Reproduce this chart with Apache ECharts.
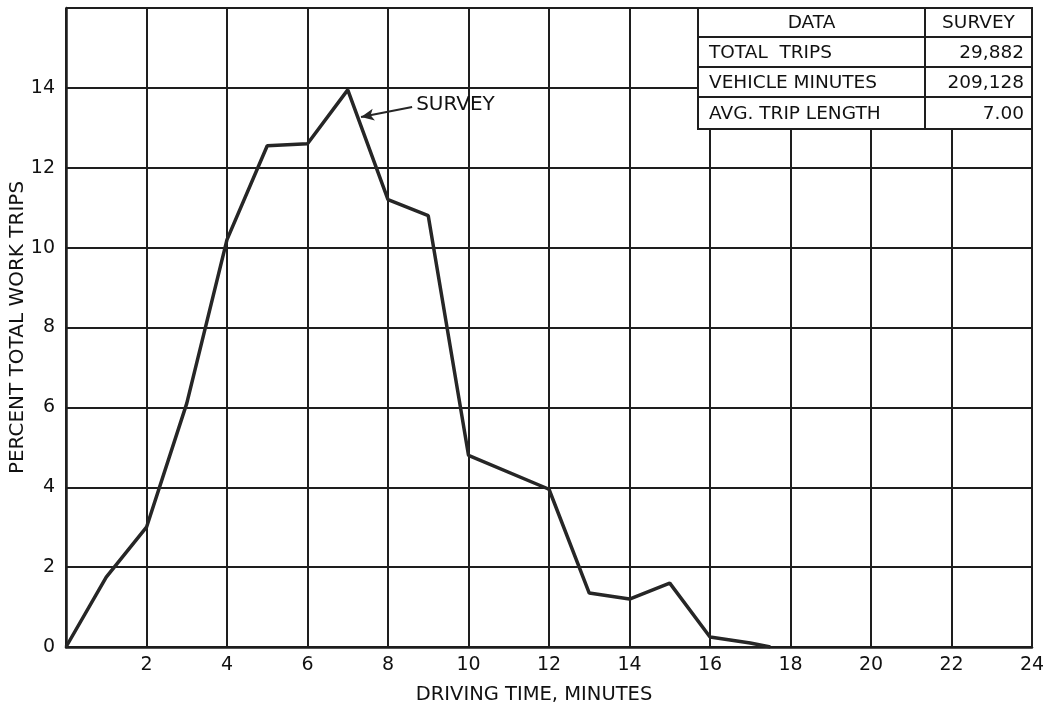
<!DOCTYPE html>
<html>
<head>
<meta charset="utf-8">
<script src="https://cdn.jsdelivr.net/npm/echarts@6/dist/echarts.min.js"></script>
<style>
html,body{margin:0;padding:0;background:#fff;}
#c{width:1055px;height:708px;}
</style>
</head>
<body>
<div id="c"></div>
<script>
// Data
var drivingTime = [0, 1, 2, 3, 4, 5, 6, 7, 8, 9, 10, 12, 13, 14, 15, 16, 17, 17.5];
var percentTrips = [0, 1.75, 3.0, 6.1, 10.2, 12.55, 12.6, 13.95, 11.2, 10.8, 4.8, 3.95, 1.35, 1.2, 1.6, 0.25, 0.1, 0];
var xTicks = [0, 2, 4, 6, 8, 10, 12, 14, 16, 18, 20, 22, 24];
var yTicks = [0, 2, 4, 6, 8, 10, 12, 14, 16];
var tableHeader = ['DATA', 'SURVEY'];
var tableLabels = ['TOTAL  TRIPS', 'VEHICLE MINUTES', 'AVG. TRIP LENGTH'];
var tableValues = ['29,882', '209,128', '7.00'];
var seriesName = 'SURVEY';

var FONT = 'DejaVu Sans';
var INK = '#1e1e1e';

var chart = echarts.init(document.getElementById('c'), null, {renderer: 'canvas'});

var pts = drivingTime.map(function (x, i) { return [x, percentTrips[i]]; });

// table geometry
var tL = 698, tR = 1032, tC = 925, rows = [8, 37, 67, 97, 129];
var g = [];
g.push({type: 'rect', shape: {x: tL, y: rows[0], width: tR - tL, height: rows[4] - rows[0]},
  style: {fill: '#fff', stroke: INK, lineWidth: 2}, z: 100});
for (var r = 1; r < 4; r++) {
  g.push({type: 'line', shape: {x1: tL, y1: rows[r], x2: tR, y2: rows[r]}, style: {stroke: INK, lineWidth: 2}, z: 101});
}
g.push({type: 'line', shape: {x1: tC, y1: rows[0], x2: tC, y2: rows[4]}, style: {stroke: INK, lineWidth: 2}, z: 101});
var tstyle = {fill: '#111', fontFamily: FONT, fontSize: 18.5};
g.push({type: 'text', x: (tL + tC) / 2, y: (rows[0] + rows[1]) / 2 + 1, z: 102,
  style: Object.assign({text: tableHeader[0], align: 'center', verticalAlign: 'middle'}, tstyle)});
g.push({type: 'text', x: (tC + tR) / 2, y: (rows[0] + rows[1]) / 2 + 1, z: 102,
  style: Object.assign({text: tableHeader[1], align: 'center', verticalAlign: 'middle'}, tstyle)});
for (var k = 0; k < 3; k++) {
  var cy = (rows[k + 1] + rows[k + 2]) / 2 + 1;
  g.push({type: 'text', x: tL + 11, y: cy, z: 102,
    style: Object.assign({text: tableLabels[k], align: 'left', verticalAlign: 'middle'}, tstyle)});
  g.push({type: 'text', x: tR - 8, y: cy, z: 102,
    style: Object.assign({text: tableValues[k], align: 'right', verticalAlign: 'middle'}, tstyle)});
}

var option = {
  backgroundColor: '#fff',
  animation: false,
  grid: {left: 66, right: 23, top: 8, bottom: 61, containLabel: false, outerBoundsMode: 'none'},
  xAxis: {
    type: 'value', min: xTicks[0], max: xTicks[xTicks.length - 1], interval: 2,
    name: 'DRIVING TIME, MINUTES', nameLocation: 'middle', nameGap: 38, nameMoveOverlap: false,
    nameTextStyle: {fontFamily: FONT, fontSize: 19.5, color: '#111', padding: [0, 30, 0, 0]},
    axisLine: {show: true, lineStyle: {color: INK, width: 2.5}},
    axisTick: {show: false},
    axisLabel: {fontFamily: FONT, fontSize: 19, color: '#111', margin: 9,
      formatter: function (v) { return v === 0 ? '' : String(v); }},
    splitLine: {show: true, lineStyle: {color: INK, width: 2}}
  },
  yAxis: {
    type: 'value', min: yTicks[0], max: yTicks[yTicks.length - 1], interval: 2,
    name: 'PERCENT TOTAL WORK TRIPS', nameLocation: 'middle', nameGap: 38, nameMoveOverlap: false,
    nameTextStyle: {fontFamily: FONT, fontSize: 20, color: '#111'},
    axisLine: {show: true, lineStyle: {color: INK, width: 2.5}},
    axisTick: {show: false},
    axisLabel: {fontFamily: FONT, fontSize: 19, color: '#111', margin: 11,
      formatter: function (v) { return v === 16 ? '' : String(v); }},
    splitLine: {show: true, lineStyle: {color: INK, width: 2}}
  },
  series: [{
    name: seriesName,
    type: 'line',
    data: pts,
    symbol: 'none',
    lineStyle: {color: '#262626', width: 3.5},
    z: 5,
    markLine: {
      silent: true,
      symbol: ['none', 'arrow'],
      symbolSize: [9, 13],
      lineStyle: {color: '#262626', width: 2, type: 'solid'},
      label: {show: false},
      data: [[{coord: [8.6, 13.52]}, {coord: [7.33, 13.27]}]]
    },
    markPoint: {
      silent: true,
      symbol: 'circle', symbolSize: 0,
      label: {show: true, position: 'right', distance: 2, formatter: seriesName,
        fontFamily: FONT, fontSize: 20, color: '#111'},
      data: [{coord: [8.65, 13.57]}]
    }
  }],
  graphic: g
};
chart.setOption(option);
</script>
</body>
</html>
